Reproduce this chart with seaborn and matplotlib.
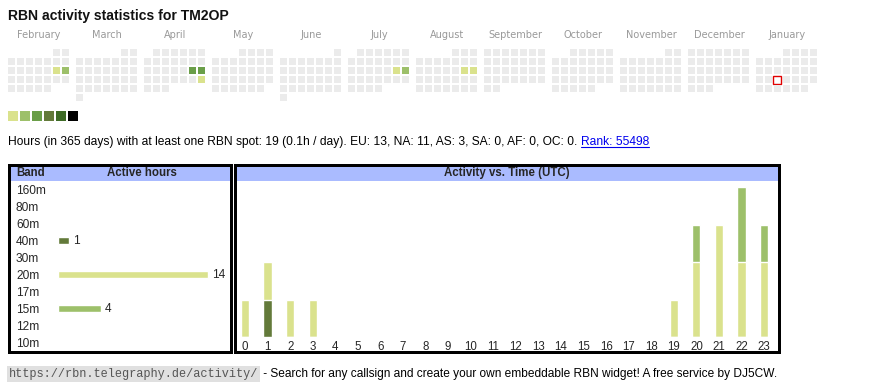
import calendar
import datetime as dt
import matplotlib
matplotlib.use("Agg")
import matplotlib.pyplot as plt
from matplotlib.patches import Rectangle
import seaborn as sns
import numpy as np
import pandas as pd

# ---------------- data ----------------
title = "RBN activity statistics for TM2OP"
month_names = ["February", "March", "April", "May", "June", "July", "August",
               "September", "October", "November", "December", "January"]
month_years = [2025, 2025, 2025, 2025, 2025, 2025, 2025, 2025, 2025, 2025, 2025, 2026]
month_nums = [2, 3, 4, 5, 6, 7, 8, 9, 10, 11, 12, 1]
active_dates = ["2025-02-15", "2025-02-16", "2025-04-19", "2025-04-20", "2025-04-27",
                "2025-07-19", "2025-07-20", "2025-08-16", "2025-08-17"]
active_levels = [1, 2, 3, 3, 1, 1, 2, 1, 1]
today = "2026-01-21"
level_colors = ["#ebebeb", "#dae28d", "#9dc06a", "#6a9e48", "#637a3a", "#3e6b26", "#000000"]

summary_text = ("Hours (in 365 days) with at least one RBN spot: 19 (0.1h / day). "
                "EU: 13, NA: 11, AS: 3, SA: 0, AF: 0, OC: 0. ")
rank_text = "Rank: 55498"

bands = ["160m", "80m", "60m", "40m", "30m", "20m", "17m", "15m", "12m", "10m"]
band_hours = [0, 0, 0, 1, 0, 14, 0, 4, 0, 0]
band_colors = ["#3e6b26", "#6a9e48", "#9dc06a", "#637a3a", "#6a9e48",
               "#dae28d", "#9dc06a", "#9dc06a", "#dae28d", "#637a3a"]

hours = list(range(24))
hours_40m = [0, 1, 0, 0, 0, 0, 0, 0, 0, 0, 0, 0, 0, 0, 0, 0, 0, 0, 0, 0, 0, 0, 0, 0]
hours_20m = [1, 1, 1, 1, 0, 0, 0, 0, 0, 0, 0, 0, 0, 0, 0, 0, 0, 0, 0, 1, 2, 3, 2, 2]
hours_15m = [0, 0, 0, 0, 0, 0, 0, 0, 0, 0, 0, 0, 0, 0, 0, 0, 0, 0, 0, 0, 1, 0, 2, 1]
color_40m, color_20m, color_15m = "#637a3a", "#dae28d", "#9dc06a"

footer_url = "https://rbn.telegraphy.de/activity/"
footer_text = " - Search for any callsign and create your own embeddable RBN widget! A free service by DJ5CW."

# ---------------- figure ----------------
sns.set_theme(style="white")
plt.rcParams["font.family"] = ["Liberation Sans", "DejaVu Sans"]
W, H = 870, 390
fig = plt.figure(figsize=(W / 100, H / 100), dpi=100)
PT = 0.72  # points per pixel


def frac(x0, y0, x1, y1):
    return [x0 / W, 1 - y1 / H, (x1 - x0) / W, (y1 - y0) / H]


bg = fig.add_axes([0, 0, 1, 1])
bg.set_xlim(0, W)
bg.set_ylim(H, 0)
bg.axis("off")

bg.text(8, 16, title, fontsize=10.1, fontweight="bold", va="center", ha="left", color="#111111")

# calendar
level_by_date = dict(zip(active_dates, active_levels))
cell, pitch, block = 7, 9, 68
for mi, (name, yy, mm) in enumerate(zip(month_names, month_years, month_nums)):
    bx = 8 + block * mi
    bg.text(bx + 31, 35, name, fontsize=7.0, color="#999999", ha="center", va="center",
            family="DejaVu Sans")
    w0 = dt.date(yy, mm, 1).weekday()
    ndays = calendar.monthrange(yy, mm)[1]
    for d in range(1, ndays + 1):
        idx = w0 + d - 1
        cx = bx + pitch * (idx % 7)
        cy = 49 + pitch * (idx // 7)
        key = dt.date(yy, mm, d).isoformat()
        if key == today:
            bg.add_patch(Rectangle((cx - 0.5, cy - 0.5), cell + 1, cell + 1, facecolor="white",
                                   edgecolor="#e00000", lw=1.0))
        else:
            lvl = level_by_date.get(key, 0)
            bg.add_patch(Rectangle((cx, cy), cell, cell, facecolor=level_colors[lvl],
                                   edgecolor="none"))

# level legend
for i, c in enumerate(level_colors[1:]):
    bg.add_patch(Rectangle((8 + 12 * i, 111), 10, 10, facecolor=c, edgecolor="none"))

# summary text
t_sum = bg.text(8, 142, summary_text, fontsize=8.62, va="center", ha="left", color="black")
t_rank = bg.annotate(rank_text, xy=(1, 0.5), xycoords=t_sum, va="center", ha="left",
                     fontsize=8.62, color="#0000ee")

# table frames and headers
bg.add_patch(Rectangle((8, 164), 224, 17, facecolor="#aabbff", edgecolor="none"))
bg.add_patch(Rectangle((234, 164), 546, 17, facecolor="#aabbff", edgecolor="none"))
bg.add_patch(Rectangle((9, 165), 222, 187, facecolor="none", edgecolor="black", lw=3 * PT))
bg.add_patch(Rectangle((235, 165), 544, 187, facecolor="none", edgecolor="black", lw=3 * PT))
bg.text(16, 173, "Band", fontsize=8.3, fontweight="bold", va="center", ha="left")
bg.text(142, 173, "Active hours", fontsize=8.3, fontweight="bold", va="center", ha="center")
bg.text(507, 173, "Activity vs. Time (UTC)", fontsize=8.3, fontweight="bold", va="center", ha="center")

# footer
t_url = bg.text(9, 374, footer_url, fontsize=8.6, family="Liberation Mono", color="#555555",
                va="center", ha="left",
                bbox=dict(facecolor="#e0e0e0", edgecolor="none", pad=1.2))
bg.annotate(footer_text, xy=(1, 0.5), xycoords=t_url, xytext=(1.5, 0), textcoords="offset points",
            va="center", ha="left", fontsize=8.6, color="black")

# ---------------- band bar chart ----------------
axb = fig.add_axes(frac(58, 181, 228, 351))
band_df = pd.DataFrame({"band": bands, "hours": band_hours})
sns.barplot(data=band_df, x="hours", y="band", hue="band", palette=band_colors,
            orient="h", width=0.41, saturation=1, legend=False, ax=axb)
axb.set_xlim(0, 170 / 10.7)
axb.set_ylim(len(bands) - 0.5, -0.5)
axb.set_facecolor("none")
for s in axb.spines.values():
    s.set_visible(False)
axb.set_xticks([])
axb.set_xlabel("")
axb.set_ylabel("")
axb.tick_params(axis="y", length=0, pad=42 * PT, labelsize=8.6)
for lab in axb.get_yticklabels():
    lab.set_ha("left")
for i, v in enumerate(band_hours):
    if v:
        axb.annotate(str(v), xy=(v, i), xytext=(3, 0), textcoords="offset points",
                     va="center", ha="left", fontsize=8.6)

# ---------------- activity vs time ----------------
axa = fig.add_axes(frac(233.7, 181, 775.4, 337))
tot_20 = [a + b for a, b in zip(hours_40m, hours_20m)]
tot_15 = [a + b for a, b in zip(tot_20, hours_15m)]
sns.barplot(x=hours, y=tot_15, color=color_15m, width=0.36, saturation=1, ax=axa)
sns.barplot(x=hours, y=tot_20, color=color_20m, width=0.36, saturation=1, ax=axa)
sns.barplot(x=hours, y=hours_40m, color=color_40m, width=0.36, saturation=1, ax=axa)
axa.set_xlim(-0.5, 23.5)
axa.set_ylim(0, 156 / 37.4)
axa.set_facecolor("none")
for s in axa.spines.values():
    s.set_visible(False)
axa.set_yticks([])
axa.set_xlabel("")
axa.set_ylabel("")
axa.tick_params(axis="x", length=0, pad=4 * PT, labelsize=8.3)

# underline for the rank link
fig.canvas.draw()
r = fig.canvas.get_renderer()
bb = t_rank.get_window_extent(r)
inv = bg.transData.inverted()
(x0, y0), (x1, y1) = inv.transform([[bb.x0, bb.y0], [bb.x1, bb.y0]])
bg.plot([x0, x1], [y0 - 1, y1 - 1], color="#0000ee", lw=0.8)

fig.savefig("out.png", dpi=100)
